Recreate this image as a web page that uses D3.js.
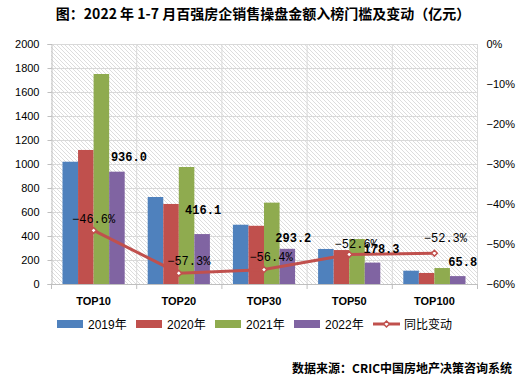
<!DOCTYPE html>
<html><head><meta charset="utf-8">
<script src="https://cdn.jsdelivr.net/npm/d3@7"></script>
<style>body{margin:0;background:#fff}svg{display:block}</style>
</head><body>
<script>
const categories = ["TOP10","TOP20","TOP30","TOP50","TOP100"];
const years = ["2019年","2020年","2021年","2022年"];
const v2019 = [1019, 725, 494, 292, 111];
const v2020 = [1117, 667, 485, 283, 92];
const v2021 = [1750, 975, 678, 375, 133];
const v2022 = [936.0, 416.1, 293.2, 178.3, 65.8];
const yoy = [-46.6, -57.3, -56.4, -52.6, -52.3];
const leftTicks = [0,200,400,600,800,1000,1200,1400,1600,1800,2000];
const rightTicks = [0,-10,-20,-30,-40,-50,-60];
const lineName = "同比变动";
const title = "图：2022 年 1-7 月百强房企销售操盘金额入榜门槛及变动（亿元）";
const source = "数据来源：CRIC中国房地产决策咨询系统";

const colors = ["#4f81bd","#c0504d","#8fab4f","#8064a2"];
const lineColor = "#c0504d";
const W = 526, H = 382;
const L = 51, R = 477, T = 44, B = 284;
const series = [v2019, v2020, v2021, v2022];
// label nudges (layout only)
const barLabelNudge = [[12,-11],[1,-20],[6,-7],[9,-10],[5,-10]];
const lineLabelNudge = [[0,-7],[10,-8],[7,-9],[7,-6],[11,-11]];

const svg = d3.select("body").append("svg").attr("width",W).attr("height",H);
const defs = svg.append("defs");
const pat = defs.append("pattern").attr("id","hatch").attr("patternUnits","userSpaceOnUse")
  .attr("width",4).attr("height",4);
pat.append("path").attr("d","M-1,-1L5,5M3,-1L5,1M-1,3L1,5")
  .attr("stroke","#d4d4d4").attr("stroke-width",0.8);

const x0 = d3.scaleBand().domain(categories).range([L,R]).paddingInner(0.27).paddingOuter(0.135);
const x1 = d3.scaleBand().domain(d3.range(4)).range([0,x0.bandwidth()]);
const y = d3.scaleLinear().domain([0,2000]).range([B,T]);
const y2 = d3.scaleLinear().domain([-60,0]).range([B,T]);
const xb = d3.scalePoint().domain(d3.range(categories.length+1)).range([L,R]);

svg.append("rect").attr("x",L).attr("y",T).attr("width",R-L).attr("height",B-T).attr("fill","url(#hatch)");

// gridlines
svg.append("g").selectAll("line").data(leftTicks.slice(1)).join("line")
  .attr("x1",L).attr("x2",R).attr("y1",d=>y(d)+0.5).attr("y2",d=>y(d)+0.5)
  .attr("stroke","#d9d9d9");
svg.append("g").selectAll("line").data(d3.range(1,categories.length+1)).join("line")
  .attr("x1",d=>xb(d)+0.5).attr("x2",d=>xb(d)+0.5).attr("y1",T).attr("y2",B)
  .attr("stroke","#d9d9d9");

// left axis
const ga = svg.append("g").attr("transform",`translate(${L+0.5},0)`)
  .call(d3.axisLeft(y).tickValues(leftTicks).tickSize(4).tickPadding(8).tickFormat(d3.format("d")));
ga.select(".domain").attr("stroke","#bfbfbf");
ga.selectAll(".tick line").attr("stroke","#bfbfbf");
ga.selectAll("text").attr("font-family","Liberation Sans, Arial, sans-serif").attr("font-size",11).attr("fill","#000");

// right axis
const gr = svg.append("g").attr("transform",`translate(${R+0.5},0)`)
  .call(d3.axisRight(y2).tickValues(rightTicks).tickSize(0).tickPadding(9).tickFormat(d=>(d<0?"−"+(-d):d)+"%"));
gr.select(".domain").attr("stroke","none");
gr.selectAll("text").attr("font-family","Liberation Sans, Arial, sans-serif").attr("font-size",11).attr("fill","#000");

// bars
categories.forEach((c,i)=>{
  svg.append("g").selectAll("rect").data(series.map((s,k)=>({k,v:s[i]}))).join("rect")
    .attr("x",d=>x0(c)+x1(d.k)).attr("width",x1.bandwidth())
    .attr("y",d=>y(d.v)).attr("height",d=>B-y(d.v)).attr("fill",d=>colors[d.k]);
});

// bottom axis
svg.append("line").attr("x1",L).attr("x2",R).attr("y1",B+0.5).attr("y2",B+0.5).attr("stroke","#bfbfbf");
svg.append("g").selectAll("line").data(d3.range(categories.length+1)).join("line")
  .attr("x1",d=>xb(d)+0.5).attr("x2",d=>xb(d)+0.5).attr("y1",B).attr("y2",B+5).attr("stroke","#bfbfbf");
svg.append("g").selectAll("text").data(categories).join("text")
  .attr("x",d=>x0(d)+x0.bandwidth()/2).attr("y",305).attr("text-anchor","middle")
  .attr("font-family","Liberation Sans, Arial, sans-serif").attr("font-weight","bold").attr("font-size",11)
  .text(d=>d);

// line
const cx = i=>x0(categories[i])+x0.bandwidth()/2;
svg.append("path").datum(yoy).attr("fill","none").attr("stroke",lineColor).attr("stroke-width",3)
  .attr("d",d3.line().x((d,i)=>cx(i)).y(d=>y2(d)));
svg.append("g").selectAll("path").data(yoy).join("path")
  .attr("transform",(d,i)=>`translate(${cx(i)},${y2(d)})`)
  .attr("d",d3.symbol().type(d3.symbolDiamond2).size(22))
  .attr("fill","#fff").attr("stroke",lineColor).attr("stroke-width",1.5);

// line labels
svg.append("g").selectAll("text").data(yoy).join("text")
  .attr("x",(d,i)=>cx(i)+lineLabelNudge[i][0]).attr("y",(d,i)=>y2(d)+lineLabelNudge[i][1])
  .attr("text-anchor","middle").attr("font-family","Liberation Mono, monospace").attr("font-size",12)
  .attr("fill","#000").text(d=>"−"+Math.abs(d).toFixed(1)+"%");

// bar labels (2022)
svg.append("g").selectAll("text").data(v2022).join("text")
  .attr("x",(d,i)=>x0(categories[i])+x1(3)+x1.bandwidth()/2+barLabelNudge[i][0])
  .attr("y",(d,i)=>y(d)+barLabelNudge[i][1]).attr("text-anchor","middle")
  .attr("font-family","Liberation Mono, monospace").attr("font-weight","bold").attr("font-size",12)
  .text(d=>d.toFixed(1));

// title
svg.append("text").attr("x",263).attr("y",19).attr("text-anchor","middle")
  .attr("font-family","Noto Sans CJK SC, sans-serif").attr("font-weight","bold").attr("font-size",14)
  .text(title);

// legend
const lg = svg.append("g").attr("font-family","Liberation Sans, 'Noto Sans CJK SC', sans-serif").attr("font-size",12);
const legX = [57,136,215,294];
years.forEach((yr,k)=>{
  lg.append("rect").attr("x",legX[k]).attr("y",320).attr("width",26).attr("height",8).attr("fill",colors[k]);
  lg.append("text").attr("x",legX[k]+31).attr("y",328.5).text(yr);
});
lg.append("line").attr("x1",373).attr("x2",400).attr("y1",324).attr("y2",324).attr("stroke",lineColor).attr("stroke-width",3);
lg.append("path").attr("transform","translate(386.5,324)").attr("d",d3.symbol().type(d3.symbolDiamond2).size(22))
  .attr("fill","#fff").attr("stroke",lineColor).attr("stroke-width",1.5);
lg.append("text").attr("x",404).attr("y",328.5).attr("font-family","Noto Sans CJK SC, sans-serif").text(lineName);

// source
svg.append("text").attr("x",512).attr("y",373).attr("text-anchor","end")
  .attr("font-family","Noto Sans CJK SC, sans-serif").attr("font-weight","bold").attr("font-size",12)
  .text(source);
</script>
</body></html>
